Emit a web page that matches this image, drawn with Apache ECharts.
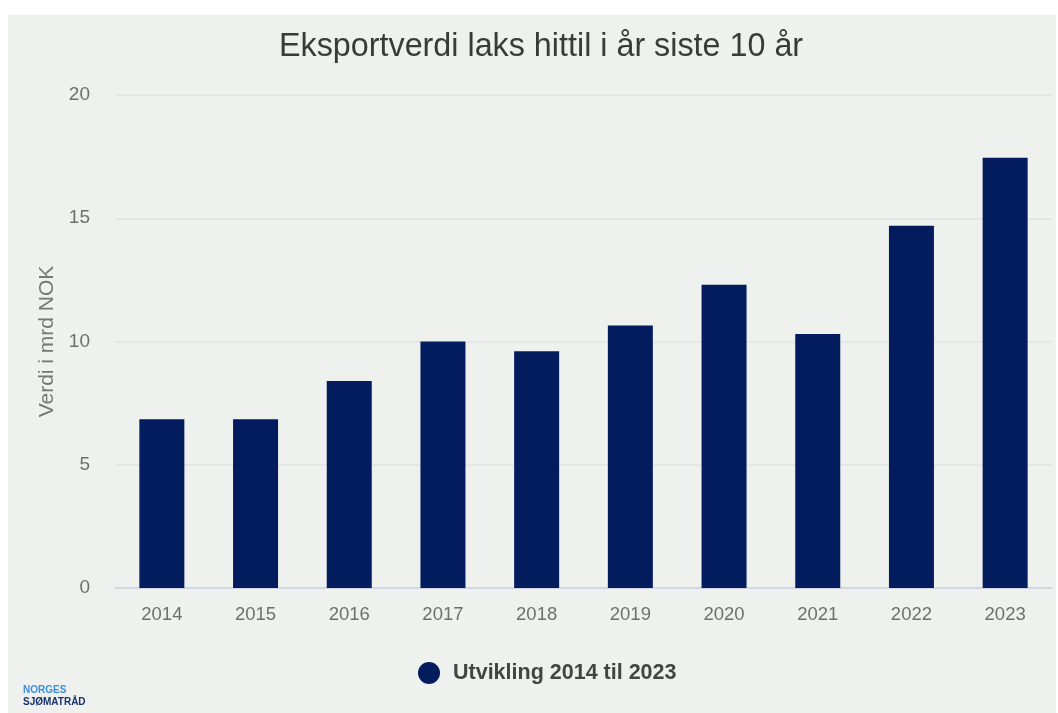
<!DOCTYPE html>
<html>
<head>
<meta charset="utf-8">
<script src="https://cdn.jsdelivr.net/npm/echarts@6/dist/echarts.min.js"></script>
<style>
  html, body { margin: 0; padding: 0; background: #fff; }
  #chart { width: 1058px; height: 713px; }
</style>
</head>
<body>
<div id="chart"></div>
<script>
// Eksportverdi laks, mrd NOK
const years = ['2014', '2015', '2016', '2017', '2018', '2019', '2020', '2021', '2022', '2023'];
const values = [6.85, 6.85, 8.4, 10.0, 9.6, 10.65, 12.3, 10.3, 14.7, 17.45];
const seriesName = 'Utvikling 2014 til 2023';

const myChart = echarts.init(document.getElementById('chart'));
const option = {
    backgroundColor: '#fff',
    textStyle: { fontFamily: 'Arial, "Liberation Sans", sans-serif' },
    graphic: [
        {
            type: 'rect',
            z: -10,
            shape: { x: 8, y: 15, width: 1048, height: 698 },
            style: { fill: '#eef1ed' }
        },
        {
            type: 'text',
            left: 23, top: 685,
            style: { text: 'NORGES', fill: '#3b8fe0', font: 'bold 10px Arial' }
        },
        {
            type: 'text',
            left: 23, top: 697,
            style: { text: 'SJØMATRÅD', fill: '#17306e', font: 'bold 10px Arial' }
        }
    ],
    title: {
        text: 'Eksportverdi laks hittil i år siste 10 år',
        left: 274,
        top: 26,
        textStyle: { fontSize: 32.3, fontWeight: 'normal', color: '#3a3a3a' }
    },
    legend: {
        bottom: 24,
        left: 413,
        icon: 'circle',
        itemWidth: 22,
        itemHeight: 22,
        itemGap: 10,
        textStyle: { fontSize: 21.5, fontWeight: 'bold', color: '#444', padding: [0, 0, 0, 8] }
    },
    grid: { left: 115, right: 6, top: 95, bottom: 125 },
    xAxis: {
        type: 'category',
        data: years,
        axisTick: { show: false },
        axisLine: { lineStyle: { color: '#c9cfe2', width: 1.5 } },
        axisLabel: { fontSize: 18.5, color: '#6f6f6f', margin: 17 }
    },
    yAxis: {
        type: 'value',
        min: 0,
        max: 20,
        interval: 5,
        name: 'Verdi i mrd NOK',
        nameLocation: 'middle',
        nameGap: 57,
        nameTextStyle: { fontSize: 21, color: '#777' },
        axisLabel: { fontSize: 19, color: '#6f6f6f', margin: 25 },
        splitLine: { lineStyle: { color: '#e0e4e0', width: 1.5 } }
    },
    series: [
        {
            name: seriesName,
            type: 'bar',
            data: values,
            barWidth: 45,
            itemStyle: { color: '#031c5e' }
        }
    ]
};
option && myChart.setOption(option);
</script>
</body>
</html>
